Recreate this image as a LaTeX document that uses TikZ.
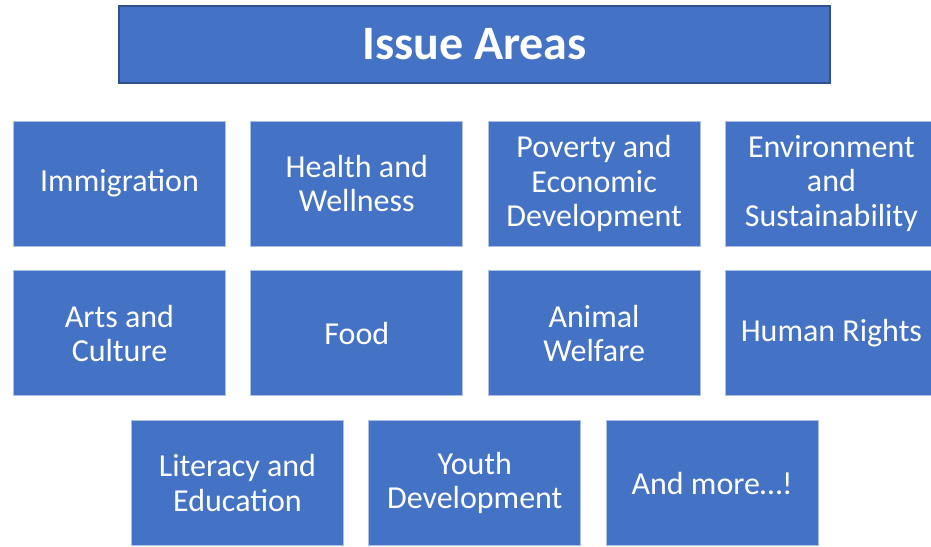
\documentclass[tikz,border=0pt]{standalone}
\usepackage{fontspec}
\setmainfont{Carlito}
\usetikzlibrary{positioning}
\definecolor{areablue}{HTML}{4472C4}
\definecolor{areadark}{HTML}{2F528F}
\tikzstyle{title} = [rectangle, minimum width=711pt, minimum height=77pt, text centered,
fill=areablue, draw=areadark, line width=2pt, text=white, font=\fontsize{48}{56}\selectfont\bfseries]
\tikzstyle{area} = [rectangle, minimum width=212pt, minimum height=125pt, text centered,
align=center, fill=areablue, draw=white!55!areablue, line width=0.8pt, text=white,
font=\fontsize{32}{34.5}\selectfont, inner sep=0pt]

\begin{document}
\begin{tikzpicture} [node distance=24.5pt]
    \useasboundingbox (0,0) rectangle (931pt,-546pt);
    \node (issues) [title] at (474.5pt,-44.5pt) {Issue Areas};
    \node (immig) [area] at (119.5pt,-183.5pt) {Immigration};
    \node (health) [area, right=of immig] {Health and\\Wellness};
    \node (poverty) [area, right=of health] {Poverty and\\Economic\\Development};
    \node (environ) [area, right=of poverty] {Environment\\and\\Sustainability};
    \node (arts) [area, below=24pt of immig] {Arts and\\Culture};
    \node (food) [area, right=of arts] {Food};
    \node (animal) [area, right=of food] {Animal\\Welfare};
    \node (rights) [area, right=of animal] {Human Rights};
    \node (literacy) [area, below=24pt of arts, xshift=118pt] {Literacy and\\Education};
    \node (youth) [area, right=of literacy] {Youth\\Development};
    \node (more) [area, right=of youth] {And more…!};
\end{tikzpicture}
\end{document}
